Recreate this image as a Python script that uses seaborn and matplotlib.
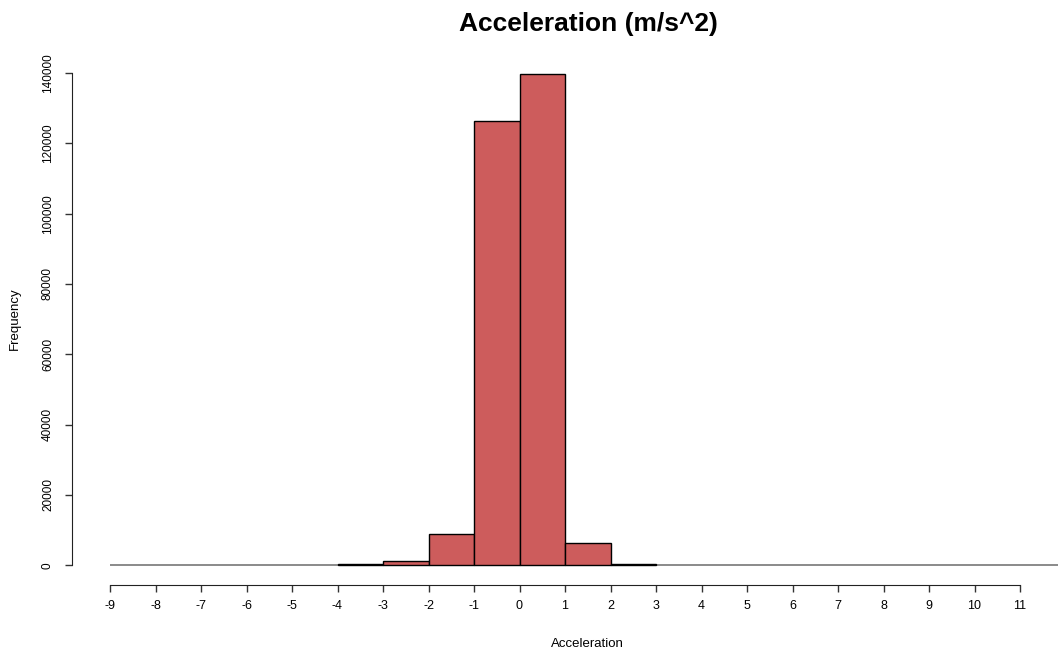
import matplotlib
matplotlib.use("Agg")
from matplotlib import pyplot as plt
import seaborn as sns

# histogram bins (width 1) and counts
bin_edges = [-4, -3, -2, -1, 0, 1, 2, 3]
counts = [300, 1300, 8800, 126400, 139700, 6300, 300]
bin_centers = [e + 0.5 for e in bin_edges[:-1]]
y_ticks = [0, 20000, 40000, 60000, 80000, 100000, 120000, 140000]
x_ticks = list(range(-9, 12))

sns.set_style("ticks")
plt.rcParams['font.family'] = ['Liberation Sans', 'DejaVu Sans']
plt.rcParams['text.color'] = 'black'
plt.rcParams['xtick.color'] = 'black'
plt.rcParams['ytick.color'] = 'black'

W, H = 1058, 654
fig = plt.figure(figsize=(W / 100, H / 100), dpi=100)
ax = fig.add_axes([72 / W, 1 - 585 / H, (1102 - 72) / W, (585 - 54) / H])

sns.histplot(x=bin_centers, weights=counts, bins=bin_edges, color='#CD5C5C',
             edgecolor='black', linewidth=1, alpha=1, ax=ax)
# zero line under the empty bins
ax.hlines(0, -9, 13, color='#777777', linewidth=1.2, zorder=0)

ax.set_xlim(-9 - 38 / 45.5, -9 + (1102 - 110) / 45.5)
ax.set_ylim(-5600, 145400)
ax.set_xticks(x_ticks)
ax.set_xticklabels([str(t) for t in x_ticks], fontsize=9)
ax.set_yticks(y_ticks)
ax.set_yticklabels([str(t) for t in y_ticks], rotation=90, va='center', fontsize=8.5)
ax.tick_params(axis='both', length=5, width=1, color='#333333')
ax.tick_params(axis='y', pad=8)
ax.tick_params(axis='x', pad=6)

for s in ['top', 'right']:
    ax.spines[s].set_visible(False)
ax.spines['left'].set_bounds(0, 140000)
ax.spines['bottom'].set_bounds(-9, 11)
ax.spines['left'].set_color('#222222')
ax.spines['bottom'].set_color('#222222')

ax.set_xlabel('')
ax.set_ylabel('')
fig.text(587 / W, 1 - 644 / H, 'Acceleration', ha='center', va='center', fontsize=9.5)
fig.text(15 / W, 1 - 319 / H, 'Frequency', ha='center', va='center', rotation=90, fontsize=9.5)
fig.text(588 / W, 1 - 31 / H, 'Acceleration (m/s^2)', ha='center', va='baseline',
         fontsize=19, fontweight='bold')

fig.savefig('out.png', dpi=100)
